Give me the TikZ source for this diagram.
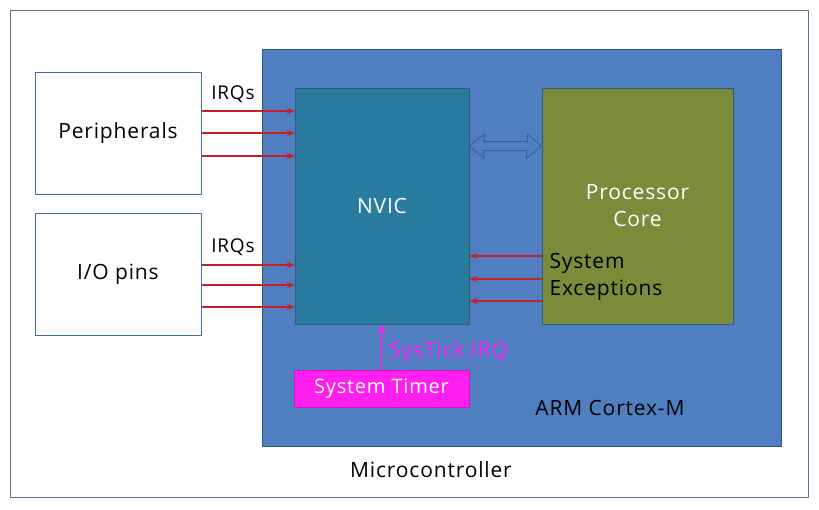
\documentclass[tikz,border=0pt]{standalone}
\usepackage{fontspec}
\setmainfont[LetterSpace=4]{Open Sans}
\usetikzlibrary{arrows.meta}
\definecolor{armblue}{HTML}{4F7FC1}
\definecolor{nvicteal}{HTML}{2A7BA0}
\definecolor{coreolive}{HTML}{7A8B3A}
\definecolor{irqred}{HTML}{C8202A}
\definecolor{tickpink}{HTML}{FF1EF0}
\definecolor{edgeblue}{HTML}{3F6E9E}
\begin{document}
\begin{tikzpicture}[x=1pt,y=-1pt,>=Stealth,line join=round,font=\fontsize{21}{27}\selectfont,
	box/.style={draw=edgeblue,line width=1pt,fill=white,minimum width=166pt,minimum height=122pt},
	block/.style={draw=edgeblue!80!black,line width=0.6pt,text=white,align=center},
	irq/.style={->,draw=irqred,line width=1.2pt}]
	\useasboundingbox (0,0) rectangle (819,509);
	\fill[white] (0,0) rectangle (819,509);
	\draw[edgeblue!70!gray,line width=1pt] (10,10) rectangle (808,497);
	\node[box] (periph) at (118,133) {Peripherals};
	\node[box] (iopins) at (118,274) {I/O pins};
	\node[block,fill=armblue,minimum width=519pt,minimum height=397pt] (arm) at (521.5,247.5) {};
	\node[block,fill=nvicteal,minimum width=174pt,minimum height=236pt] (nvic) at (382,206) {NVIC};
	\node[block,fill=coreolive,minimum width=191pt,minimum height=236pt] (core) at (637.5,206) {Processor\\Core};
	\node[block,fill=tickpink,draw=tickpink!80!black,minimum width=175pt,minimum height=37pt,font=\fontsize{20}{24}\selectfont] (timer) at (381.5,388.5) {System Timer};
	\draw[edgeblue!90!black,line width=1pt,fill=armblue] (nvic.east |- 0,146) -- ++(15,-12) -- ++(0,7.5) -- ++(43,0) -- ++(0,-7.5)
		-- (core.west |- 0,146) -- ++(-15,12) -- ++(0,-7.5) -- ++(-43,0) -- ++(0,7.5) -- cycle;
	\foreach \y in {111,133,156}
		\draw[irq] (periph.east |- 0,\y) -- (nvic.west |- 0,\y);
	\foreach \y in {265,285,307}
		\draw[irq] (iopins.east |- 0,\y) -- (nvic.west |- 0,\y);
	\foreach \y in {256,279,301}
		\draw[irq] (core.west |- 0,\y) -- (nvic.east |- 0,\y);
	\node[font=\fontsize{19}{22}\selectfont] (irqa) at (233,94) {IRQs};
	\node[font=\fontsize{19}{22}\selectfont] (irqb) at (233,247) {IRQs};
	\node[anchor=west,align=left] (sysexc) at (546,277) {System\\Exceptions};
	\draw[->,draw=tickpink,line width=1.5pt] (timer.north) -- (nvic.south);
	\node[anchor=west,text=tickpink,font=\fontsize{21}{25}\selectfont] (ticklbl) at (386,352) {SysTick IRQ};
	\node (armlbl) at (610,408) {ARM Cortex-M};
	\node (mcu) at (431,470) {Microcontroller};
\end{tikzpicture}
\end{document}
